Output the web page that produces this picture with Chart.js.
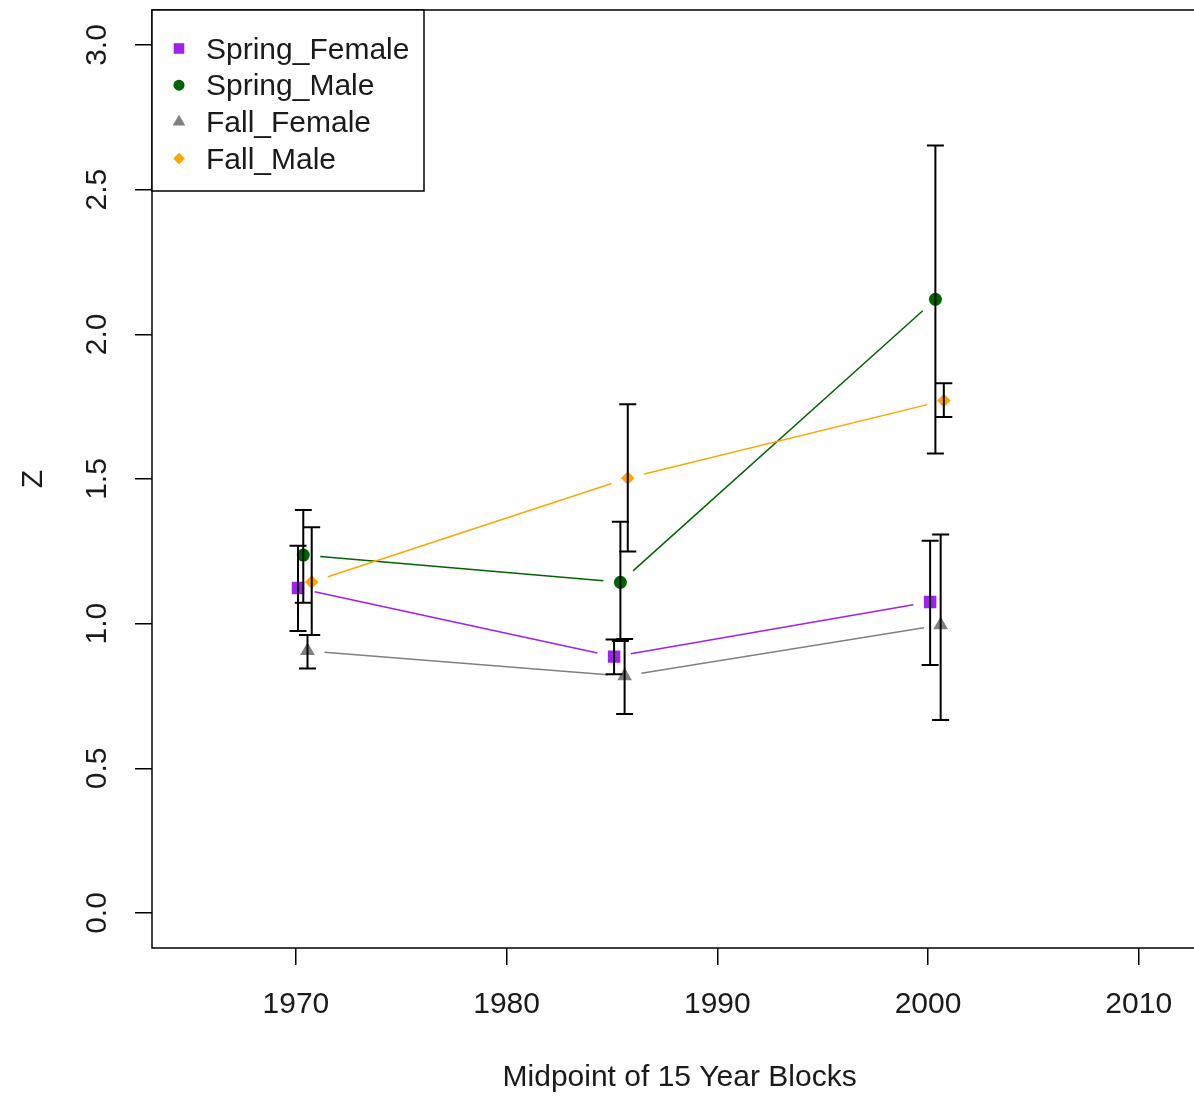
<!DOCTYPE html>
<html>
<head>
<meta charset="utf-8">
<script src="https://cdn.jsdelivr.net/npm/chart.js@4.4.0/dist/chart.umd.min.js"></script>
<style>
  html, body { margin: 0; padding: 0; background: #fff; overflow: hidden; }
  #wrap { width: 1216px; height: 1096px; }
</style>
</head>
<body>
<div id="wrap"><canvas id="zChart"></canvas></div>
<script>
// x values are the block midpoints, nudged apart a little per series as in the original
const springFemaleYear = [1970.1, 1985.1, 2000.1];
const springMaleYear   = [1970.35, 1985.4, 2000.35];
const fallFemaleYear   = [1970.55, 1985.6, 2000.6];
const fallMaleYear     = [1970.75, 1985.75, 2000.75];

const springFemale   = [1.123, 0.886, 1.075];
const springFemaleLo = [0.975, 0.825, 0.857];
const springFemaleHi = [1.269, 0.945, 1.287];

const springMale   = [1.237, 1.143, 2.121];
const springMaleLo = [1.072, 0.94, 1.588];
const springMaleHi = [1.393, 1.352, 2.653];

const fallFemale   = [0.906, 0.819, 0.995];
const fallFemaleLo = [0.845, 0.688, 0.667];
const fallFemaleHi = [0.961, 0.947, 1.308];

const fallMale   = [1.144, 1.503, 1.771];
const fallMaleLo = [0.961, 1.249, 1.714];
const fallMaleHi = [1.333, 1.758, 1.831];

const xTicks = [1970, 1980, 1990, 2000, 2010];
const yTicks = [0.0, 0.5, 1.0, 1.5, 2.0, 2.5, 3.0];

const FONT = '"Liberation Sans", Arial, sans-serif';
const INK = '#1a1a1a';

function pts(xs, ys) {
  return xs.map((x, i) => ({ x: x, y: ys[i] }));
}

function series(label, xs, ys, lo, hi, color, style, radius) {
  return {
    label: label,
    data: pts(xs, ys),
    lo: lo,
    hi: hi,
    showLine: false,
    borderColor: color,
    backgroundColor: color,
    pointBackgroundColor: color,
    pointBorderWidth: 0,
    pointStyle: style,
    pointRadius: radius,
    pointHoverRadius: radius
  };
}

const datasets = [
  series('Spring_Female', springFemaleYear, springFemale, springFemaleLo, springFemaleHi, '#A020F0', 'rect', 8.8),
  series('Spring_Male', springMaleYear, springMale, springMaleLo, springMaleHi, '#006400', 'circle', 6.5),
  series('Fall_Female', fallFemaleYear, fallFemale, fallFemaleLo, fallFemaleHi, '#808080', 'triangle', 8.5),
  series('Fall_Male', fallMaleYear, fallMale, fallMaleLo, fallMaleHi, '#FFA500', 'rectRot', 6.8)
];

// R-like extras: gapped connecting lines, error bars, box, rotated y labels, legend
const rStyle = {
  id: 'rStyle',
  beforeDatasetsDraw(chart) {
    const ctx = chart.ctx;
    chart.data.datasets.forEach((ds, i) => {
      const p = chart.getDatasetMeta(i).data;
      ctx.save();
      ctx.strokeStyle = ds.borderColor;
      ctx.lineWidth = 1.5;
      for (let k = 0; k < p.length - 1; k++) {
        const dx = p[k + 1].x - p[k].x, dy = p[k + 1].y - p[k].y;
        const g = 17 / Math.hypot(dx, dy);
        ctx.beginPath();
        ctx.moveTo(p[k].x + dx * g, p[k].y + dy * g);
        ctx.lineTo(p[k + 1].x - dx * g, p[k + 1].y - dy * g);
        ctx.stroke();
      }
      ctx.restore();
    });
  },
  afterDatasetsDraw(chart) {
    const ctx = chart.ctx;
    const ys = chart.scales.y;
    const area = chart.chartArea;

    // error bars
    ctx.save();
    ctx.strokeStyle = '#000';
    ctx.lineWidth = 2;
    chart.data.datasets.forEach((ds, i) => {
      chart.getDatasetMeta(i).data.forEach((pt, k) => {
        const y1 = ys.getPixelForValue(ds.lo[k]);
        const y2 = ys.getPixelForValue(ds.hi[k]);
        ctx.beginPath();
        ctx.moveTo(pt.x, y1); ctx.lineTo(pt.x, y2);
        ctx.moveTo(pt.x - 8.5, y1); ctx.lineTo(pt.x + 8.5, y1);
        ctx.moveTo(pt.x - 8.5, y2); ctx.lineTo(pt.x + 8.5, y2);
        ctx.stroke();
      });
    });
    ctx.restore();

    // plot box
    ctx.save();
    ctx.strokeStyle = '#000';
    ctx.lineWidth = 1.5;
    ctx.strokeRect(area.left, area.top, area.right - area.left, area.bottom - area.top);
    ctx.restore();

    // y tick labels, rotated like R
    ctx.save();
    ctx.fillStyle = INK;
    ctx.font = '30px ' + FONT;
    ctx.textAlign = 'center';
    ctx.textBaseline = 'middle';
    yTicks.forEach(v => {
      ctx.save();
      ctx.translate(area.left - 54, ys.getPixelForValue(v));
      ctx.rotate(-Math.PI / 2);
      ctx.fillText(v.toFixed(1), 0, 0);
      ctx.restore();
    });
    ctx.restore();

    // legend
    const lx = area.left, ly = area.top;
    ctx.save();
    ctx.fillStyle = '#fff';
    ctx.fillRect(lx, ly, 272, 181);
    ctx.strokeStyle = '#000';
    ctx.lineWidth = 1.5;
    ctx.strokeRect(lx, ly, 272, 181);
    ctx.font = '30px ' + FONT;
    ctx.textAlign = 'left';
    ctx.textBaseline = 'middle';
    chart.data.datasets.forEach((ds, i) => {
      const cy = ly + 40.5 + i * 36.7;
      ctx.fillStyle = ds.backgroundColor;
      Chart.helpers.drawPoint(ctx, { pointStyle: ds.pointStyle, radius: ds.pointRadius * 0.85, borderWidth: 0, rotation: 0 }, lx + 27, cy - 2);
      ctx.fillStyle = INK;
      ctx.fillText(ds.label, lx + 54, cy);
    });
    ctx.restore();
  }
};

const config = {
  type: 'line',
  data: { datasets: datasets },
  options: {
    responsive: true,
    maintainAspectRatio: false,
    animation: false,
    layout: { padding: { left: 0, top: 10, right: 0, bottom: 0 } },
    plugins: { legend: { display: false }, tooltip: { enabled: false } },
    scales: {
      x: {
        type: 'linear',
        min: 1963.17,
        max: 2013.25,
        afterFit: s => { s.height = 148; },
        afterBuildTicks: s => { s.ticks = xTicks.map(v => ({ value: v })); },
        grid: { display: true, drawOnChartArea: false, drawTicks: true, tickLength: 17, color: '#000', lineWidth: 1.5 },
        border: { display: false },
        ticks: { color: INK, font: { family: FONT, size: 30 }, padding: 22, maxRotation: 0, callback: v => String(v) },
        title: { display: true, text: 'Midpoint of 15 Year Blocks', color: INK, font: { family: FONT, size: 30 }, padding: { top: 0, bottom: 0 } }
      },
      y: {
        type: 'linear',
        min: -0.121,
        max: 3.121,
        afterFit: s => { s.width = 152; },
        afterBuildTicks: s => { s.ticks = yTicks.map(v => ({ value: v })); },
        grid: { display: true, drawOnChartArea: false, drawTicks: true, tickLength: 17, color: '#000', lineWidth: 1.5 },
        border: { display: false },
        ticks: { display: false },
        title: { display: true, text: 'Z', color: INK, font: { family: FONT, size: 30 }, padding: { top: 16, bottom: 0 } }
      }
    }
  },
  plugins: [rStyle]
};

new Chart(document.getElementById('zChart'), config);
</script>
</body>
</html>
